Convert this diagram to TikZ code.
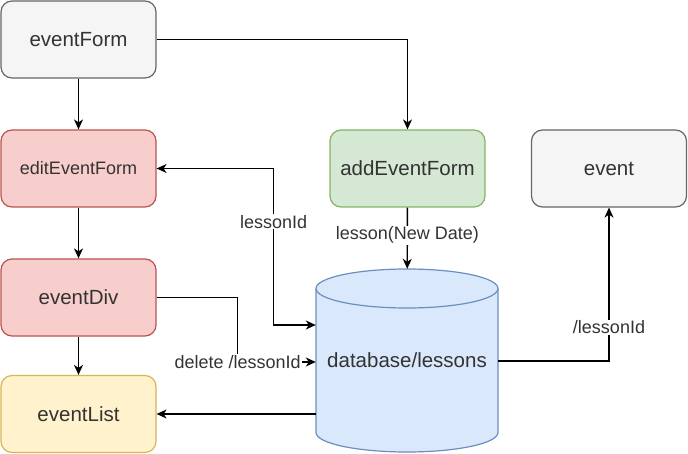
\documentclass[tikz,border=0pt]{standalone}
\usepackage{fontspec}
\setmainfont{Liberation Sans}
\usetikzlibrary{arrows.meta,backgrounds}

\definecolor{grayfill}{HTML}{F5F5F5}
\definecolor{graydraw}{HTML}{666666}
\definecolor{redfill}{HTML}{F8CECC}
\definecolor{reddraw}{HTML}{B85450}
\definecolor{greenfill}{HTML}{D5E8D4}
\definecolor{greendraw}{HTML}{82B366}
\definecolor{yellowfill}{HTML}{FFF2CC}
\definecolor{yellowdraw}{HTML}{D6B656}
\definecolor{bluefill}{HTML}{DAE8FC}
\definecolor{bluedraw}{HTML}{6C8EBF}
\definecolor{txt}{HTML}{333333}

\tikzset{
    box/.style={rectangle, rounded corners=11pt, line width=1.2pt,
        minimum width=155pt, minimum height=77pt, inner sep=0pt,
        text=txt, font=\fontsize{20.5}{24}\selectfont},
    graybox/.style={box, fill=grayfill, draw=graydraw},
    redbox/.style={box, fill=redfill, draw=reddraw},
    greenbox/.style={box, fill=greenfill, draw=greendraw},
    yellowbox/.style={box, fill=yellowfill, draw=yellowdraw},
    lbl/.style={fill=white, inner sep=1pt, text=txt,
        font=\fontsize{18}{21}\selectfont},
    tip/.tip={Stealth[length=10pt,width=9pt,inset=3pt]},
    arr/.style={line width=1.4pt, -tip},
    arrboth/.style={line width=1.4pt, tip-tip},
    dbline/.style={draw=bluedraw, line width=1.2pt},
}

\begin{document}
\begin{tikzpicture}[x=1pt, y=-1pt]
    \useasboundingbox (0,0) rectangle (688,454);

    % left column
    \node[graybox] (eventForm) at (78.5,39.5) {eventForm};
    \node[redbox, font=\fontsize{18}{21}\selectfont] (editEventForm) at (78.5,168.5) {editEventForm};
    \node[redbox] (eventDiv) at (78.5,297.5) {eventDiv};
    \node[yellowbox] (eventList) at (78.5,414) {eventList};

    % right side
    \node[greenbox] (addEventForm) at (407.5,168.5) {addEventForm};
    \node[graybox] (event) at (609,168.5) {event};
    \node[minimum width=182pt, minimum height=183pt, inner sep=0pt,
        text=txt, font=\fontsize{20.5}{24}\selectfont]
        (db) at (407,360.5) {database/lessons};

    % cylinder behind the db node
    \begin{scope}[on background layer]
        \path[dbline, fill=bluefill] (316,288.5) -- (316,432.5)
            arc[start angle=180, end angle=0, x radius=91, y radius=19.5]
            -- (498,288.5)
            arc[start angle=0, end angle=-180, x radius=91, y radius=19.5] -- cycle;
        \draw[dbline] (498,288.5)
            arc[start angle=0, end angle=180, x radius=91, y radius=19.5];
    \end{scope}

    % connectors
    \draw[arr] (eventForm) -- (editEventForm);
    \draw[arr] (eventForm.east) -| (addEventForm.north);
    \draw[arr] (editEventForm) -- (eventDiv);
    \draw[arr] (eventDiv) -- (eventList);
    \draw[arr] (addEventForm) -- node[lbl, pos=0.45] {lesson(New Date)} (db);
    \draw[arrboth] (editEventForm.east) -- ++(117,0)
        |- node[lbl, pos=0.17] {lessonId} ([yshift=35.5pt]db.west);
    \draw[arr] (eventDiv.east) -- ++(81,0)
        |- node[lbl, pos=0.5] {delete /lessonId} ([yshift=-1.5pt]db.west);
    \draw[arr] ([yshift=-0.5pt]db.east) -| node[lbl, pos=0.61] {/lessonId} (event.south);
    \draw[arr] (db.west |- eventList.east) -- (eventList.east);
\end{tikzpicture}
\end{document}
